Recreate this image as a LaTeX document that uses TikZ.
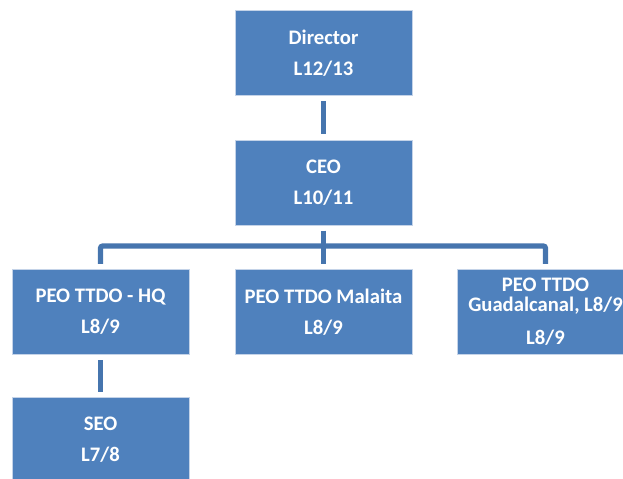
\documentclass[tikz,border=0pt]{standalone}
\usepackage{fontspec}
\setmainfont{Carlito}
\usepackage{tikz}
\usetikzlibrary{positioning,calc}
\definecolor{unitblue}{HTML}{4F81BD}
\definecolor{unitedge}{HTML}{C4D3E8}
\definecolor{linkblue}{HTML}{4675AE}

\begin{document}
\begin{tikzpicture}[x=0.75pt,y=-0.75pt,
  post/.style={fill=unitblue,draw=unitedge,line width=0.4pt,minimum width=132.75pt,minimum height=63.75pt,
    align=center,text=white,font=\bfseries\fontsize{15.5}{22}\selectfont,inner sep=0pt},
  link/.style={draw=linkblue,line width=3.8pt,shorten <=4pt,shorten >=4pt}]
\useasboundingbox (0,0) rectangle (623,478);
\clip (0,0) rectangle (623,478);
\node[post] (dir) at (323.5,53) {Director\\[1pt]L12/13};
\node[post] (ceo) at (323.5,182.5) {CEO\\[1pt]L10/11};
\node[post] (hq) at (100.5,312) {PEO TTDO - HQ\\[1pt]L8/9};
\node[post] (mal) at (323.5,312) {PEO TTDO Malaita\\[1pt]L8/9};
\node[post,font=\bfseries\fontsize{15.5}{15}\selectfont] (gdl) at (545.5,312) {PEO TTDO\\Guadalcanal, L8/9\\[9.75pt]L8/9};
\node[post] (seo) at (100.5,440) {SEO\\[1pt]L7/8};
\coordinate (bus) at (323.5,246);
\draw[link] (dir) -- (ceo);
\draw[link] (ceo) -- (mal);
\draw[link,rounded corners=1.5pt] (hq) |- (bus) -| (gdl);
\draw[link] (hq) -- (seo);
\end{tikzpicture}
\end{document}
